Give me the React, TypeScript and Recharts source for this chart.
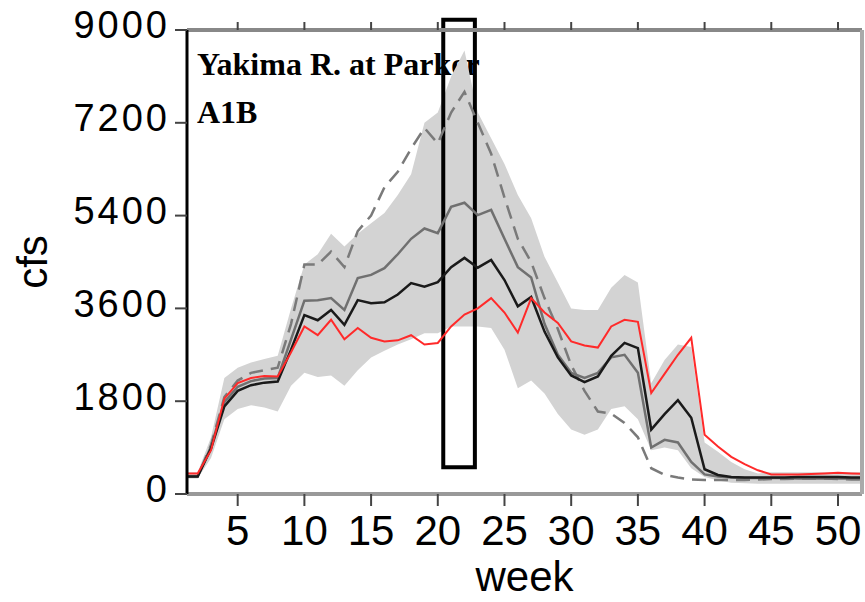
import {
  Area,
  ComposedChart,
  Customized,
  Line,
  ReferenceArea,
  XAxis,
  YAxis,
} from 'recharts';

// weekly flow, cfs
const weeks = [
  1, 2, 3, 4, 5, 6, 7, 8, 9, 10, 11, 12, 13, 14, 15, 16, 17, 18, 19, 20, 21, 22,
  23, 24, 25, 26, 27, 28, 29, 30, 31, 32, 33, 34, 35, 36, 37, 38, 39, 40, 41, 42,
  43, 44, 45, 46, 47, 48, 49, 50, 51, 52,
];

const bandLow = [
  300, 300, 700, 1450, 1650, 1720, 1680, 1600, 2100, 2350, 2270, 2300, 2100,
  2400, 2650, 2780, 2900, 3000, 3120, 3120, 3250, 3250, 3250, 3220, 2800, 2050,
  2200, 1950, 1550, 1250, 1150, 1250, 1650, 1700, 1450, 850, 900, 850, 500, 330,
  260, 220, 210, 200, 200, 200, 200, 200, 200, 200, 200, 200,
];

const bandHigh = [
  420, 420, 1100, 2250, 2450, 2550, 2620, 2680, 3600, 4450, 4650, 5050, 4800,
  5050, 5250, 5450, 5800, 6200, 7200, 7400, 8100, 8600, 7400, 6900, 6400, 5800,
  5350, 4600, 4100, 3600, 3570, 3570, 4000, 4250, 4100, 2150, 2600, 2900, 2850,
  1000, 820, 620, 480, 400, 420, 420, 420, 420, 420, 420, 420, 420,
];

const dashedLine = [
  340, 340, 950, 1880, 2200, 2350, 2400, 2450, 3300, 4450, 4450, 4700, 4400,
  5100, 5400, 5950, 6250, 6700, 7100, 6800, 7400, 7800, 7200, 6600, 5750, 4950,
  4500, 3800, 3200, 2500, 2000, 1600, 1560, 1380, 1100, 500, 370, 320, 280, 270,
  270, 270, 270, 280, 290, 290, 300, 300, 300, 290, 280, 280,
];

const grayLine = [
  340, 340, 920, 1780, 2080, 2190, 2240, 2250, 3000, 3750, 3760, 3800, 3570,
  4190, 4250, 4380, 4650, 4950, 5150, 5060, 5570, 5650, 5410, 5510, 4950, 4400,
  4200, 3300, 2700, 2350, 2250, 2350, 2650, 2700, 2350, 900, 1050, 1000, 620,
  380, 340, 320, 310, 310, 310, 310, 300, 300, 300, 300, 300, 300,
];

const blackLine = [
  340, 340, 880, 1700, 2000, 2110, 2160, 2180, 2800, 3470, 3370, 3570, 3280,
  3760, 3700, 3720, 3870, 4090, 4020, 4110, 4400, 4580, 4390, 4540, 4150, 3640,
  3820, 3150, 2650, 2300, 2170, 2280, 2680, 2930, 2830, 1250, 1550, 1820, 1480,
  480, 370, 330, 320, 320, 320, 320, 330, 330, 330, 330, 320, 320,
];

const redLine = [
  400, 400, 850, 1850, 2150, 2250, 2290, 2280, 2750, 3250, 3080, 3380, 3000,
  3220, 3030, 2960, 2980, 3080, 2900, 2930, 3250, 3480, 3600, 3800, 3520, 3130,
  3800, 3520, 3320, 2960, 2880, 2840, 3250, 3380, 3340, 1960, 2330, 2700, 3030,
  1150, 920, 720, 580, 460, 380, 380, 380, 390, 400, 410, 400, 390,
];

const xTicks = [5, 10, 15, 20, 25, 30, 35, 40, 45, 50];
const yTicks = [0, 1800, 3600, 5400, 7200, 9000];

const SANS = '"Liberation Sans", Arial, sans-serif';
const SERIF = '"Liberation Serif", "Times New Roman", serif';

function Annotations() {
  return (
    <g>
      <text x={197} y={75} fontFamily={SERIF} fontWeight="bold" fontSize={32}>
        Yakima R. at Parker
      </text>
      <text x={197} y={123} fontFamily={SERIF} fontWeight="bold" fontSize={32}>
        A1B
      </text>
      <text
        transform="translate(47, 262) rotate(-90)"
        textAnchor="middle"
        fontFamily={SANS}
        fontSize={42}
        fill="#000"
      >
        cfs
      </text>
    </g>
  );
}

export default function App() {
  const rows = weeks.map((week, i) => ({
    week,
    band: [bandLow[i], bandHigh[i]],
    dashed: dashedLine[i],
    gray: grayLine[i],
    median: blackLine[i],
    observed: redLine[i],
  }));

  return (
    <div
      style={{
        position: 'absolute',
        left: 0,
        top: 0,
        width: 865,
        height: 602,
        background: '#fff',
      }}
    >
      <ComposedChart
        width={865}
        height={602}
        data={rows}
        margin={{ top: 18, right: 0, bottom: 0, left: 67 }}
      >
        <XAxis
          xAxisId="top"
          orientation="top"
          type="number"
          dataKey="week"
          domain={[1.2, 51.8]}
          allowDataOverflow
          ticks={xTicks}
          height={12}
          tickSize={8}
          tickFormatter={() => ''}
          axisLine={{ stroke: '#888', strokeWidth: 4 }}
          tickLine={{ stroke: '#444', strokeWidth: 2 }}
        />
        <XAxis
          type="number"
          dataKey="week"
          domain={[1.2, 51.8]}
          allowDataOverflow
          ticks={xTicks}
          interval={0}
          height={108}
          tickSize={12}
          tickMargin={9}
          axisLine={{ stroke: '#999', strokeWidth: 4 }}
          tickLine={{ stroke: '#444', strokeWidth: 2 }}
          tick={{ fontSize: 42, fill: '#000', fontFamily: SANS }}
          label={{
            value: 'week',
            position: 'insideBottom',
            offset: 11,
            fontSize: 42,
            fill: '#000',
            fontFamily: SANS,
          }}
        />
        <YAxis
          type="number"
          domain={[0, 9000]}
          ticks={yTicks}
          interval={0}
          width={120}
          tickSize={12}
          tickMargin={5}
          axisLine={{ stroke: '#000', strokeWidth: 3 }}
          tickLine={{ stroke: '#444', strokeWidth: 2 }}
          tick={{
            fontSize: 38,
            fill: '#000',
            fontFamily: SANS,
            letterSpacing: 3,
            dy: -5,
          }}
        />
        <YAxis
          yAxisId="right"
          orientation="right"
          type="number"
          domain={[0, 9000]}
          width={3}
          tick={false}
          tickLine={false}
          axisLine={{ stroke: '#aaa', strokeWidth: 4 }}
        />

        <Area
          type="linear"
          dataKey="band"
          fill="#d3d3d3"
          fillOpacity={1}
          stroke="none"
          isAnimationActive={false}
        />
        <Line
          type="linear"
          dataKey="dashed"
          stroke="#7a7a7a"
          strokeWidth={2.5}
          strokeDasharray="14 8"
          dot={false}
          isAnimationActive={false}
        />
        <Line
          type="linear"
          dataKey="gray"
          stroke="#707070"
          strokeWidth={2.5}
          dot={false}
          isAnimationActive={false}
        />
        <Line
          type="linear"
          dataKey="median"
          stroke="#1a1a1a"
          strokeWidth={2.5}
          dot={false}
          isAnimationActive={false}
        />
        <Line
          type="linear"
          dataKey="observed"
          stroke="#ff2a2a"
          strokeWidth={2}
          dot={false}
          isAnimationActive={false}
        />

        <ReferenceArea
          x1={20.41}
          x2={22.78}
          y1={520}
          y2={9200}
          ifOverflow="visible"
          fill="none"
          stroke="#000"
          strokeWidth={4}
        />
        <Customized component={Annotations} />
      </ComposedChart>
    </div>
  );
}
